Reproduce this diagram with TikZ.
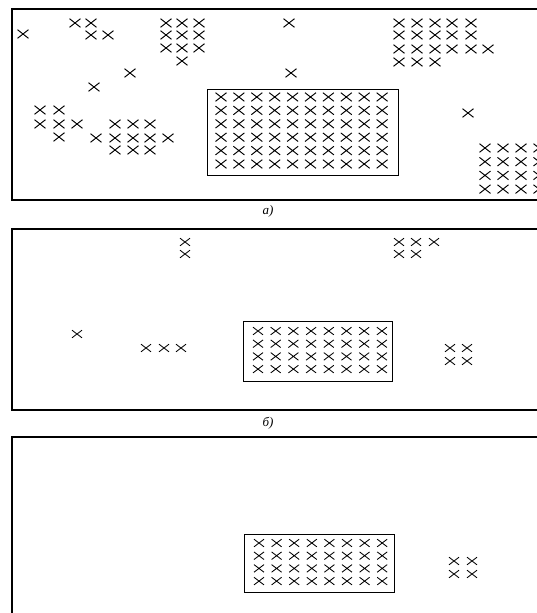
\documentclass[tikz,border=0pt]{standalone}
\usepackage{fontspec}
\setmainfont{Liberation Serif}
\begin{document}
\begin{tikzpicture}[x=1pt,y=-1pt,
  xm/.pic={\draw[line width=0.95pt] (-5.5,-4.3)--(5.5,4.3) (-5.5,4.3)--(5.5,-4.3);},
  xs/.pic={\draw[line width=0.85pt] (-5,-3.8)--(5,3.8) (-5,3.8)--(5,-3.8);},
  frameline/.style={line width=1.1pt},
  boxline/.style={line width=0.9pt},
  caption/.style={font=\fontsize{13}{15}\selectfont\itshape, inner sep=0pt}]
\useasboundingbox (0,0) rectangle (537,613);
\clip (0,0) rectangle (537,613);
% ---------- panel a ----------
\draw[frameline] (545,9) -- (12,9) -- (12,200) -- (545,200);
\draw[boxline] (207,89) rectangle (398,175);
\foreach \i in {0,...,9} \foreach \j in {0,...,5}
  \pic at ({221+17.9*\i},{97+13.4*\j}) {xm};
\foreach \p in {(23,34),(75,23),(91,23),(91,35),(108,35),
  (166,23),(182,23),(199,23),(166,35),(182,35),(199,35),(166,48),(182,48),(199,48),(182,61),
  (130,73),(94,87),(289,23),(291,73),
  (399,23),(417,23),(435,23),(452,23),(471,23),
  (399,35),(417,35),(435,35),(452,35),(471,35),
  (399,49),(417,49),(435,49),(452,49),(471,49),(488,49),
  (399,62),(417,62),(435,62),
  (468,113),
  (40,110),(59,110),(40,124),(59,124),(77,124),(59,137),
  (115,124),(133,124),(150,124),
  (96,138),(115,138),(133,138),(150,138),(168,138),
  (115,150),(133,150),(150,150)}
  \pic at \p {xm};
\foreach \i in {0,...,3} \foreach \j in {0,...,3}
  \pic at ({485+18*\i},{148+13.7*\j}) {xm};
\node[caption] (capa) at (268,211) {а)};
% ---------- panel b ----------
\draw[frameline] (545,229) -- (12,229) -- (12,410) -- (545,410);
\draw[boxline] (243,321) rectangle (392,381);
\foreach \i in {0,...,7} \foreach \j in {0,...,3}
  \pic at ({258+17.7*\i},{331+12.7*\j}) {xs};
\foreach \p in {(185,242),(185,254),
  (399,242),(416,242),(434,242),(399,254),(416,254),
  (77,334),(146,348),(164,348),(181,348),
  (450,348),(467,348),(450,361),(467,361)}
  \pic at \p {xs};
\node[caption] (capb) at (268,423) {б)};
% ---------- panel c ----------
\draw[frameline] (545,437) -- (12,437) -- (12,620);
\draw[boxline] (244,534) rectangle (394,592);
\foreach \i in {0,...,7} \foreach \j in {0,...,3}
  \pic at ({259+17.6*\i},{543+12.7*\j}) {xs};
\foreach \p in {(454,561),(472,561),(454,574),(472,574)}
  \pic at \p {xs};
\end{tikzpicture}
\end{document}
